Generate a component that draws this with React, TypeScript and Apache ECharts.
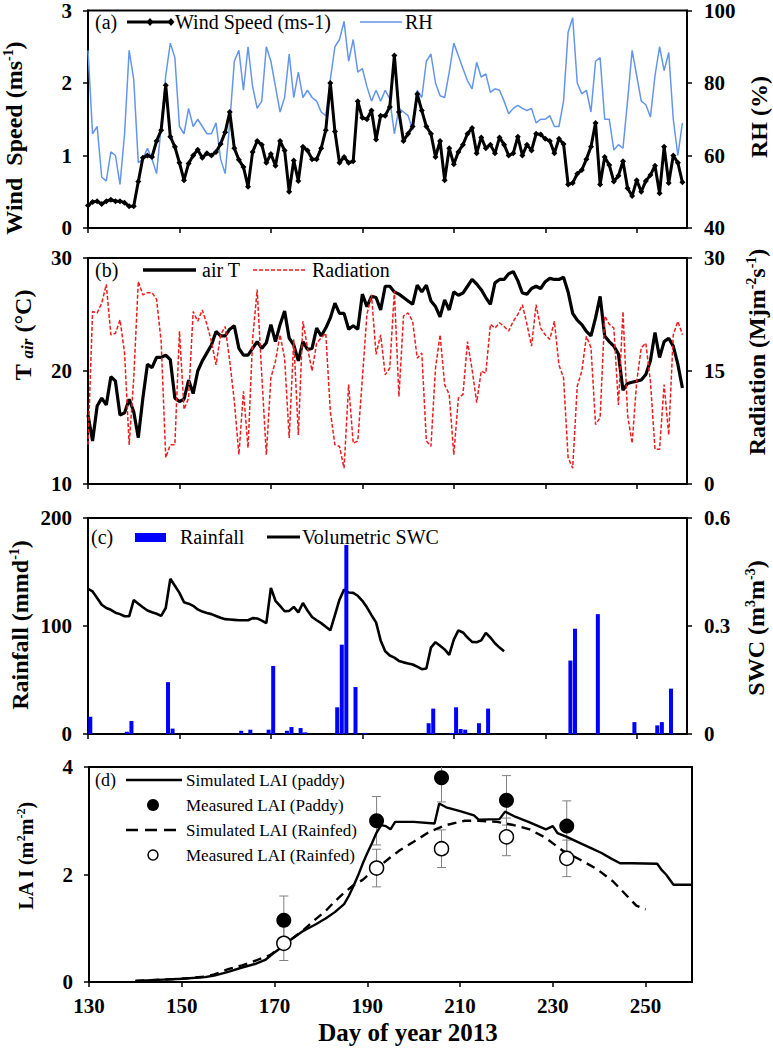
import React, { useEffect, useRef } from 'react';
import * as echarts from 'echarts';

const FONT = "'Times New Roman', 'Liberation Serif', serif";

// ---- data: daily records start at day 130 of 2013 ----
const DAY0 = 130;
const xTicks = [130, 150, 170, 190, 210, 230, 250];

const windSpeed = [
  0.31, 0.36, 0.37, 0.33, 0.37, 0.39, 0.37, 0.37, 0.35, 0.30,
  0.30, 0.64, 0.97, 1.00, 0.98, 1.20, 1.35, 1.97, 1.26, 1.12,
  0.90, 0.66, 0.89, 1.00, 1.08, 0.97, 1.03, 1.00, 1.05, 1.16,
  1.32, 1.60, 1.10, 0.94, 0.84, 0.57, 1.05, 1.20, 1.15, 0.90,
  1.02, 0.86, 1.20, 1.07, 0.50, 0.93, 0.65, 1.12, 1.07, 0.95,
  0.95, 1.10, 1.35, 2.00, 1.33, 0.90, 0.98, 0.90, 0.92, 1.75,
  1.52, 1.50, 1.62, 1.22, 1.55, 1.55, 1.67, 2.38, 1.60, 1.20,
  1.30, 1.40, 1.85, 1.62, 1.40, 1.30, 0.98, 1.20, 0.66, 1.10,
  0.88, 1.05, 1.15, 1.30, 1.38, 1.03, 1.25, 1.10, 1.15, 1.03,
  1.25, 1.15, 1.00, 1.03, 1.26, 1.00, 1.15, 1.07, 1.30, 1.29,
  1.23, 1.20, 1.03, 1.23, 1.16, 0.60, 0.62, 0.75, 0.80, 0.95,
  1.12, 1.45, 0.60, 0.98, 0.87, 0.64, 0.72, 0.92, 0.55, 0.44,
  0.66, 0.50, 0.65, 0.73, 0.86, 0.48, 1.12, 0.62, 1.00, 0.90,
  0.63,
];

const rhValues = [
  89, 66, 68, 54, 53, 61, 60, 52, 66, 89,
  81, 58, 59, 62, 59, 55, 68, 82, 91, 87,
  68, 66, 73, 68, 70, 68, 66, 66, 69, 59,
  55, 69, 86, 89, 78, 90, 79, 73, 75, 90,
  86, 79, 72, 76, 88, 76, 83, 76, 78, 76,
  75, 72, 71, 81, 90, 92, 97, 86, 92, 83,
  84, 79, 75, 78, 75, 78, 75.6, 66, 73, 72,
  71, 67, 78, 76, 86, 88, 80, 76.5, 76, 83,
  91, 87.5, 84, 80.6, 78.4, 85.7, 81.6, 82.5, 77.4, 78.4,
  78, 75, 71.5, 73, 73.8, 73, 72.4, 73, 69, 70,
  70, 71, 68, 68, 75, 94, 98, 80, 77, 78,
  72, 86, 87, 70, 70, 61.5, 63, 62, 75, 89,
  82, 75, 74, 70.6, 82, 90, 83.4, 88.4, 70, 60,
  69,
];

const airT = [
  16.1, 13.8, 16.9, 17.6, 17.0, 19.5, 19.1, 16.1, 16.3, 17.5,
  16.4, 14.1, 17.6, 20.6, 20.3, 21.2, 21.2, 21.4, 21.0, 17.6,
  17.3, 17.5, 19.2, 18.0, 20.0, 20.9, 21.6, 22.3, 23.5, 23.1,
  23.1, 23.7, 24.0, 22.0, 21.4, 21.4, 22.0, 22.6, 22.0, 22.5,
  24.1, 22.6, 24.1, 25.3, 22.9, 22.3, 20.9, 22.6, 21.9, 22.0,
  23.8, 23.1, 23.8, 24.7, 26.0, 25.1, 25.1, 23.7, 24.0, 23.7,
  26.8, 25.7, 26.6, 26.5, 25.4, 27.5, 27.5, 27.0, 26.8, 26.5,
  26.2, 25.9, 27.6, 27.0, 27.6, 26.2, 25.7, 24.8, 26.3, 25.4,
  27.0, 26.7, 26.9, 27.5, 28.1, 27.7, 27.2, 26.5, 25.9, 27.8,
  28.1, 28.1, 28.6, 28.8, 28.0, 26.9, 26.8, 27.3, 27.5, 27.3,
  27.9, 28.2, 28.1, 28.1, 28.3, 27.0, 25.1, 24.5, 24.1, 23.5,
  23.1, 24.7, 26.6, 23.1, 22.6, 22.2, 21.5, 18.3, 18.9, 19.0,
  19.1, 19.2, 19.7, 20.9, 23.4, 21.2, 22.6, 22.9, 22.2, 20.6,
  18.5,
];

const radiation = [
  5.2, 22.9, 22.7, 24.0, 26.5, 19.8, 20.0, 21.8, 17.4, 5.2,
  14.0, 26.9, 25.1, 25.4, 25.4, 24.5, 18.9, 3.5, 5.2, 5.2,
  20.3, 9.9, 11.4, 22.9, 21.6, 23.1, 21.2, 18.9, 15.8, 19.8,
  20.9, 16.3, 11.0, 3.9, 12.3, 4.8, 19.2, 25.8, 14.5, 3.9,
  14.1, 16.3, 19.8, 16.7, 6.1, 19.2, 6.5, 21.6, 18.1, 15.0,
  18.7, 19.4, 20.0, 9.6, 5.2, 5.0, 2.1, 13.2, 5.4, 5.7,
  14.0, 22.5, 25.1, 17.2, 19.8, 14.5, 15.4, 25.6, 11.6, 22.3,
  22.7, 21.6, 16.7, 17.4, 5.7, 5.0, 15.4, 19.8, 13.2, 11.9,
  3.9, 11.4, 11.9, 18.9, 15.2, 10.8, 15.0, 14.7, 21.2, 20.7,
  21.4, 20.9, 20.3, 21.6, 22.5, 23.8, 21.2, 18.3, 23.8, 20.7,
  19.8, 19.2, 21.6, 15.8, 14.1, 3.5, 2.1, 13.0, 15.0, 19.6,
  18.1, 7.9, 8.8, 22.3, 21.2, 20.7, 10.5, 22.9, 9.2, 5.4,
  13.6, 18.1, 18.7, 13.6, 4.6, 4.6, 13.2, 6.5, 19.8, 21.6,
  19.8,
];

// volumetric soil water content, days 130 .. 221
const swcValues = [
  0.403, 0.396, 0.378, 0.359, 0.350, 0.345, 0.337, 0.333, 0.327, 0.327,
  0.372, 0.362, 0.352, 0.343, 0.338, 0.334, 0.328, 0.350, 0.431, 0.412,
  0.392, 0.366, 0.362, 0.356, 0.346, 0.340, 0.336, 0.333, 0.328, 0.323,
  0.319, 0.318, 0.317, 0.316, 0.316, 0.316, 0.322, 0.321, 0.315, 0.308,
  0.406, 0.370, 0.356, 0.341, 0.342, 0.353, 0.338, 0.364, 0.343, 0.325,
  0.316, 0.308, 0.298, 0.288, 0.330, 0.373, 0.401, 0.393, 0.392, 0.384,
  0.370, 0.352, 0.330, 0.310, 0.260, 0.230, 0.218, 0.212, 0.203, 0.199,
  0.196, 0.193, 0.187, 0.180, 0.182, 0.240, 0.255, 0.245, 0.235, 0.220,
  0.262, 0.288, 0.282, 0.268, 0.256, 0.255, 0.260, 0.281, 0.268, 0.252,
  0.240, 0.230,
];

const rainDays = [130, 138, 139, 147, 148, 163, 165, 169, 170, 173, 174, 176, 177, 184, 185, 186, 188, 190,
  204, 205, 209, 210, 211, 212, 215, 217, 235, 236, 241, 249, 254, 255, 257];
const rainValues = [16, 2, 12, 48, 5, 3, 4, 4, 63, 3, 6.5, 5.5, 1.5, 24.7, 82.7, 175, 43.5, 1,
  10, 23.5, 1, 24.7, 4.6, 4, 10, 23.5, 68, 97.5, 111, 11, 8, 11, 42];

const simPaddy = [
  [140, 0.02], [145, 0.04], [150, 0.06], [155, 0.09], [157, 0.12], [160, 0.19], [163, 0.27], [166, 0.34],
  [168, 0.41], [170, 0.55], [172, 0.68], [174, 0.82], [176, 0.94], [179, 1.08], [181, 1.18], [183, 1.3],
  [185, 1.45], [186, 1.6], [187, 1.78], [188, 1.98], [189, 2.2], [190, 2.4], [191, 2.58], [192, 2.78],
  [193, 2.92], [194, 2.9], [195, 2.84], [196, 2.98], [200, 2.98], [204.5, 2.95], [205.5, 3.32], [207, 3.25],
  [210, 3.18], [213, 3.1], [214, 3.02], [218.5, 3.03], [219.7, 3.17], [222, 3.07], [225, 2.97], [228.5, 2.84],
  [230, 2.9], [231, 2.77], [233, 2.7], [236, 2.58], [238, 2.5], [240.5, 2.4], [242.5, 2.3], [244.5, 2.21],
  [247, 2.21], [252.5, 2.2], [253.5, 2.08], [254.5, 1.99], [256, 1.81], [260, 1.81],
];
const simRainfed = [
  [140, 0.02], [150, 0.06], [155, 0.1], [157, 0.14], [160, 0.24], [163, 0.31], [166, 0.4], [169, 0.5],
  [171, 0.62], [174, 0.82], [176, 0.95], [179, 1.18], [181, 1.32], [183, 1.5], [185, 1.66], [187, 1.8],
  [189, 1.9], [191, 2.05], [193, 2.18], [195, 2.32], [197, 2.45], [200, 2.61], [203.5, 2.8], [207, 2.92],
  [211, 3.0], [214, 3.0], [218, 2.98], [221.5, 2.92], [225, 2.84], [228.5, 2.68], [232, 2.45], [236, 2.27],
  [239.5, 2.1], [243, 1.87], [246, 1.6], [248, 1.42], [250, 1.35],
];

const measDays = [172, 192, 206, 220, 233];
const measPaddy = [1.15, 3.0, 3.8, 3.38, 2.9];
const measPaddyErr = [0.45, 0.45, 0.45, 0.46, 0.47];
const measRainfed = [0.72, 2.12, 2.48, 2.7, 2.3];
const measRainfedErr = [0.32, 0.35, 0.35, 0.35, 0.34];

// ---- helpers ----
const daily = (arr: number[]) => arr.map((v, i) => [DAY0 + i, v]);

const RH_BLUE = '#6495ED';
const RED = '#ee1c1c';
const BLUE = '#0000ff';

const axisLine = { show: true, lineStyle: { color: '#000', width: 2 } };
const axisTickStyle = { color: '#000', width: 1.5 };
const tickLabel = { color: '#000', fontFamily: FONT, fontWeight: 'bold' as const, fontSize: 21 };

function yAx(gridIndex: number, min: number, max: number, interval: number, position: 'left' | 'right') {
  return {
    type: 'value', gridIndex, min, max, interval, position,
    axisLine, axisTick: { show: true, length: 5, lineStyle: axisTickStyle },
    axisLabel: { ...tickLabel, margin: position === 'left' ? 16 : 17 },
    splitLine: { show: false },
  };
}
function xAx(gridIndex: number, max: number, labels: boolean) {
  return {
    type: 'value', gridIndex, min: 130, max,
    axisLine, axisTick: { show: true, length: 5, lineStyle: axisTickStyle, customValues: xTicks },
    axisLabel: { show: labels, ...tickLabel, margin: 13, customValues: xTicks },
    splitLine: { show: false },
  };
}

const rich = (size: number) => ({
  b: { fontFamily: FONT, fontSize: size, fontWeight: 'bold', fill: '#000', lineHeight: size + 2 },
  s: { fontFamily: FONT, fontSize: Math.round(size * 0.6), fontWeight: 'bold', fill: '#000', lineHeight: Math.round(size * 0.6), verticalAlign: 'top' },
  i: { fontFamily: FONT, fontSize: Math.round(size * 0.7), fontWeight: 'bold', fontStyle: 'italic', fill: '#000', lineHeight: Math.round(size * 0.7), verticalAlign: 'bottom' },
});
const vTitle = (x: number, y: number, text: string, size = 24) => ({
  type: 'text', x, y, rotation: Math.PI / 2, silent: true,
  style: { text, align: 'center', verticalAlign: 'middle', rich: rich(size) },
});
const txt = (x: number, y: number, text: string, size = 20) => ({
  type: 'text', x, y, silent: true,
  style: { text, fill: '#000', fontFamily: FONT, fontSize: size, align: 'left', verticalAlign: 'middle' },
});
const seg = (x1: number, x2: number, y: number, stroke: string, lineWidth: number, lineDash?: number[]) => ({
  type: 'line', silent: true, shape: { x1, y1: y, x2, y2: y },
  style: { stroke, lineWidth, lineDash },
});
const diamond = (x: number, y: number) => ({
  type: 'polygon', silent: true,
  shape: { points: [[x, y - 4], [x + 3.5, y], [x, y + 4], [x - 3.5, y]] },
  style: { fill: '#000' },
});

function errorBars(vals: number[], errs: number[]) {
  return {
    type: 'custom', xAxisIndex: 3, yAxisIndex: 6, clip: true, z: 2,
    data: measDays.map((d, i) => [d, vals[i] - errs[i], vals[i] + errs[i]]),
    renderItem: (_p: any, api: any) => {
      const x = api.value(0);
      const lo = api.coord([x, api.value(1)]);
      const hi = api.coord([x, api.value(2)]);
      const w = 4.5;
      const style = { stroke: '#808080', lineWidth: 1 };
      return {
        type: 'group',
        children: [
          { type: 'line', shape: { x1: lo[0], y1: lo[1], x2: hi[0], y2: hi[1] }, style },
          { type: 'line', shape: { x1: lo[0] - w, y1: lo[1], x2: lo[0] + w, y2: lo[1] }, style },
          { type: 'line', shape: { x1: hi[0] - w, y1: hi[1], x2: hi[0] + w, y2: hi[1] }, style },
        ],
      };
    },
  };
}

export default function App() {
  const ref = useRef<HTMLDivElement>(null);
  useEffect(() => {
    document.body.style.margin = '0';
    if (!ref.current) return;
    const chart = echarts.init(ref.current, undefined, { renderer: 'svg' });
    const gridStyle = { show: true, borderColor: '#000', borderWidth: 2, containLabel: false };
    const option = {
      animation: false,
      backgroundColor: '#fff',
      textStyle: { fontFamily: FONT },
      grid: [
        { ...gridStyle, left: 88, top: 9, width: 599, height: 219 },
        { ...gridStyle, left: 88, top: 258, width: 599, height: 226 },
        { ...gridStyle, left: 88, top: 518, width: 599, height: 216 },
        { ...gridStyle, left: 89, top: 767, width: 603, height: 215 },
      ],
      xAxis: [xAx(0, 261, false), xAx(1, 261, false), xAx(2, 261, false), xAx(3, 260, true)],
      yAxis: [
        yAx(0, 0, 3, 1, 'left'),
        yAx(0, 40, 100, 20, 'right'),
        yAx(1, 10, 30, 10, 'left'),
        yAx(1, 0, 30, 15, 'right'),
        yAx(2, 0, 200, 100, 'left'),
        yAx(2, 0, 0.6, 0.3, 'right'),
        yAx(3, 0, 4, 2, 'left'),
      ],
      series: [
        {
          name: 'RH', type: 'line', xAxisIndex: 0, yAxisIndex: 1, data: daily(rhValues),
          showSymbol: false, lineStyle: { color: RH_BLUE, width: 1.5 }, z: 2,
        },
        {
          name: 'Wind Speed (ms-1)', type: 'line', xAxisIndex: 0, yAxisIndex: 0, data: daily(windSpeed),
          symbol: 'diamond', symbolSize: 6, itemStyle: { color: '#000' },
          lineStyle: { color: '#000', width: 3 }, z: 3,
        },
        {
          name: 'air T', type: 'line', xAxisIndex: 1, yAxisIndex: 2, data: daily(airT),
          showSymbol: false, lineStyle: { color: '#000', width: 3.2 }, z: 2,
        },
        {
          name: 'Radiation', type: 'line', xAxisIndex: 1, yAxisIndex: 3, data: daily(radiation),
          showSymbol: false, lineStyle: { color: RED, width: 1.5, type: [4, 2] }, z: 3,
        },
        {
          name: 'Volumetric SWC', type: 'line', xAxisIndex: 2, yAxisIndex: 5, data: daily(swcValues),
          showSymbol: false, lineStyle: { color: '#000', width: 2.6 }, z: 2,
        },
        {
          // each bar spans its day interval [day, day+1]
          name: 'Rainfall', type: 'bar', xAxisIndex: 2, yAxisIndex: 4,
          data: rainDays.map((d, i) => [d + 0.5, rainValues[i]]),
          barWidth: 4, itemStyle: { color: BLUE }, z: 3,
        },
        {
          name: 'Simulated LAI (paddy)', type: 'line', xAxisIndex: 3, yAxisIndex: 6, data: simPaddy,
          showSymbol: false, lineStyle: { color: '#000', width: 2.4 }, z: 2,
        },
        {
          name: 'Simulated LAI (Rainfed)', type: 'line', xAxisIndex: 3, yAxisIndex: 6, data: simRainfed,
          showSymbol: false, lineStyle: { color: '#000', width: 2.4, type: [9, 6] }, z: 2,
        },
        errorBars(measPaddy, measPaddyErr),
        errorBars(measRainfed, measRainfedErr),
        {
          name: 'Measured LAI (Paddy)', type: 'scatter', xAxisIndex: 3, yAxisIndex: 6,
          data: measDays.map((d, i) => [d, measPaddy[i]]),
          symbol: 'circle', symbolSize: 15, itemStyle: { color: '#000', opacity: 1 }, z: 4,
        },
        {
          name: 'Measured LAI (Rainfed)', type: 'scatter', xAxisIndex: 3, yAxisIndex: 6,
          data: measDays.map((d, i) => [d, measRainfed[i]]),
          symbol: 'circle', symbolSize: 14, itemStyle: { color: '#fff', borderColor: '#000', borderWidth: 1.5, opacity: 1 }, z: 4,
        },
      ],
      graphic: [
        // panel (a) legend
        txt(95, 22, '(a)'),
        seg(127, 172, 22, '#000', 3), diamond(150, 22), diamond(171, 22),
        txt(175, 22, 'Wind Speed (ms-1)'),
        seg(360, 402, 22, RH_BLUE, 1.5),
        txt(405, 22, 'RH'),
        // panel (b) legend
        txt(95, 270, '(b)'),
        seg(143, 196, 270, '#000', 3.5),
        txt(202, 270, 'air T'),
        seg(253, 307, 270, RED, 1.5, [4, 2]),
        txt(312, 270, 'Radiation'),
        // panel (c) legend
        txt(91, 537, '(c)'),
        { type: 'rect', silent: true, shape: { x: 135, y: 533, width: 31, height: 9 }, style: { fill: BLUE } },
        txt(180, 537, 'Rainfall'),
        seg(267, 300, 537, '#000', 3),
        txt(302, 537, 'Volumetric SWC'),
        // panel (d) legend
        txt(95, 780, '(d)', 18),
        seg(126, 182, 780, '#000', 2.4),
        txt(186, 780, 'Simulated LAI (paddy)', 17),
        { type: 'circle', silent: true, shape: { cx: 153, cy: 805, r: 6 }, style: { fill: '#000' } },
        txt(186, 805, 'Measured LAI (Paddy)', 17),
        seg(126, 182, 830, '#000', 2.4, [12, 7]),
        txt(186, 830, 'Simulated LAI (Rainfed)', 17),
        { type: 'circle', silent: true, shape: { cx: 153, cy: 855, r: 5 }, style: { fill: '#fff', stroke: '#000', lineWidth: 1.5 } },
        txt(186, 855, 'Measured LAI (Rainfed)', 17),
        // axis titles
        vTitle(14, 138, '{b|Wind  Speed (ms}{s|-1}{b|)}'),
        vTitle(759, 117, '{b|RH (%)}'),
        vTitle(23, 335, '{b|T }{i|air}{b| (°C)}'),
        vTitle(757, 352, '{b|Radiation (Mjm}{s|-2}{b|s}{s|-1}{b|)}'),
        vTitle(20, 625, '{b|Rainfall (mmd}{s|-1}{b|)}'),
        vTitle(756, 628, '{b|SWC (m}{s|3}{b|m}{s|-3}{b|)}'),
        vTitle(26, 856, '{b|LA I (m}{s|2}{b|m}{s|-2}{b|)}', 20),
        {
          type: 'text', x: 408, y: 1032, silent: true,
          style: { text: 'Day of year 2013', fill: '#000', fontFamily: FONT, fontSize: 25, fontWeight: 'bold', align: 'center', verticalAlign: 'middle' },
        },
      ],
    };
    chart.setOption(option as any);
    return () => chart.dispose();
  }, []);
  return <div ref={ref} style={{ width: 773, height: 1049 }} />;
}
